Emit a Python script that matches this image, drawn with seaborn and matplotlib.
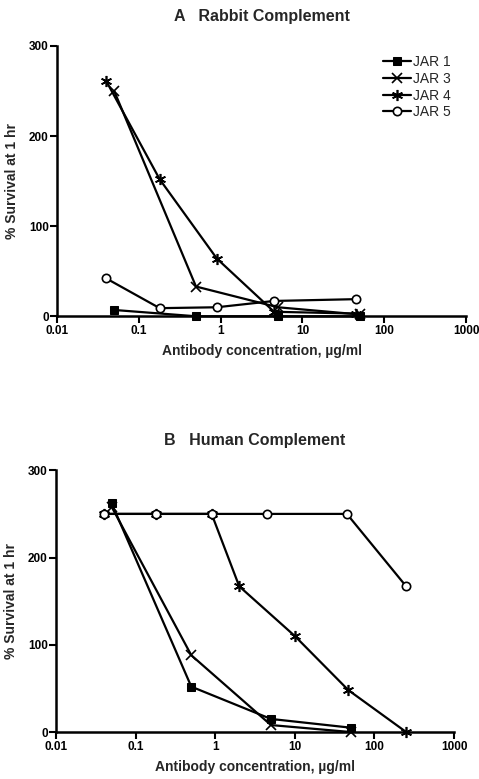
import matplotlib
matplotlib.use("Agg")
import matplotlib.pyplot as plt
import seaborn as sns
import pandas as pd

sns.set_theme(style="ticks")
plt.rcParams['font.family'] = ['Liberation Sans', 'DejaVu Sans']

# ---- data ----
series_names = ["JAR 1", "JAR 3", "JAR 4", "JAR 5"]

a_jar1_x = [0.05, 0.5, 5, 50]
a_jar1_y = [7, 0, 0, 0]
a_jar3_x = [0.05, 0.5, 5, 50]
a_jar3_y = [250, 33, 10, 2]
a_jar4_x = [0.04, 0.18, 0.9, 4.5, 45]
a_jar4_y = [261, 152, 64, 5, 3]
a_jar5_x = [0.04, 0.18, 0.9, 4.5, 45]
a_jar5_y = [42, 9, 10, 17, 19]

b_jar1_x = [0.05, 0.5, 5, 50]
b_jar1_y = [262, 52, 15, 5]
b_jar3_x = [0.05, 0.5, 5, 50]
b_jar3_y = [258, 88, 8, 0]
b_jar4_x = [0.04, 0.18, 0.9, 2, 10, 47, 250]
b_jar4_y = [250, 250, 250, 167, 110, 48, 0]
b_jar5_x = [0.04, 0.18, 0.9, 4.5, 45, 250]
b_jar5_y = [250, 250, 250, 250, 250, 167]

x_ticks = [0.01, 0.1, 1, 10, 100, 1000]
x_ticklabels = ["0.01", "0.1", "1", "10", "100", "1000"]
y_ticks = [0, 100, 200, 300]
y_ticklabels = ["0", "100", "200", "300"]

titles = ["A   Rabbit Complement", "B   Human Complement"]
xlabel = "Antibody concentration, µg/ml"
ylabel = "% Survival at 1 hr"

styles = {
    "JAR 1": dict(marker="s", markersize=6, markerfacecolor="black"),
    "JAR 3": dict(marker="x", markersize=7, markeredgewidth=1.2),
    "JAR 4": dict(marker=(6, 2, 0), markersize=8, markeredgewidth=1.2),
    "JAR 5": dict(marker="o", markersize=6, markerfacecolor="white", markeredgewidth=1.2),
}

fig = plt.figure(figsize=(4.79, 7.79), dpi=100)
axA = fig.add_axes([0.119, 0.594, 0.854, 0.347])
axB = fig.add_axes([0.117, 0.0603, 0.831, 0.336])

panels = [
    (axA, [(a_jar1_x, a_jar1_y), (a_jar3_x, a_jar3_y), (a_jar4_x, a_jar4_y), (a_jar5_x, a_jar5_y)]),
    (axB, [(b_jar1_x, b_jar1_y), (b_jar3_x, b_jar3_y), (b_jar4_x, b_jar4_y), (b_jar5_x, b_jar5_y)]),
]

for i, (ax, data) in enumerate(panels):
    for name, (xs, ys) in zip(series_names, data):
        df = pd.DataFrame({"x": xs, "y": ys})
        sns.lineplot(data=df, x="x", y="y", ax=ax, color="black", linewidth=1.6,
                     estimator=None, sort=False, label=name, clip_on=False,
                     markeredgecolor="black", **styles[name])
    ax.set_xscale("log")
    ax.set_xlim(0.01, 1000)
    ax.set_ylim(0, 300)
    ax.set_xticks(x_ticks)
    ax.set_xticklabels(x_ticklabels, fontsize=8.5, fontweight="bold")
    ax.minorticks_off()
    ax.set_yticks(y_ticks)
    ax.set_yticklabels(y_ticklabels, fontsize=8.5, fontweight="bold")
    ax.tick_params(axis="both", direction="out", length=5, width=1.5, pad=1.5, colors="black")
    ax.tick_params(axis="y", pad=1)
    sns.despine(ax=ax)
    for sp in ["left", "bottom"]:
        ax.spines[sp].set_linewidth(1.8)
        ax.spines[sp].set_color("black")
    ax.set_xlabel(xlabel, fontsize=10, fontweight="bold", labelpad=5)
    ax.set_ylabel(ylabel, fontsize=10, fontweight="bold", labelpad=7)
    ax.set_title(titles[i], fontsize=11.5, fontweight="bold", pad=18)
    if i == 0:
        ax.legend(loc="upper right", frameon=False, fontsize=10, handlelength=2.0,
                  handletextpad=0.15, labelspacing=0.2, borderaxespad=0, borderpad=0,
                  bbox_to_anchor=(451 / 479, 1 - 55 / 779), bbox_transform=fig.transFigure)
    else:
        leg = ax.get_legend()
        if leg is not None:
            leg.remove()

fig.savefig("out.png", dpi=100)
